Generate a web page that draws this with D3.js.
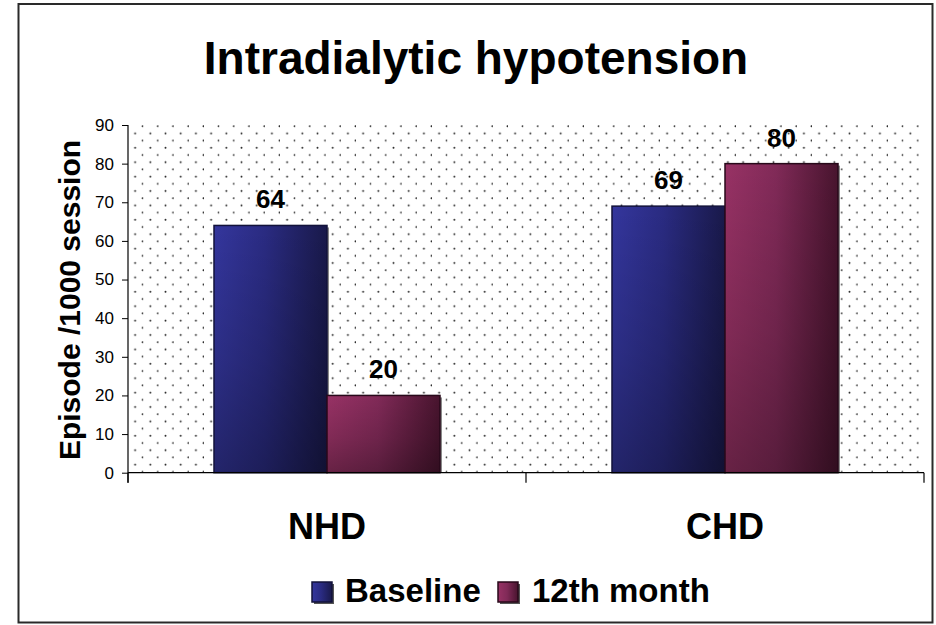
<!DOCTYPE html>
<html>
<head>
<meta charset="utf-8">
<script src="https://cdn.jsdelivr.net/npm/d3@7"></script>
<style>
  body { margin: 0; background: #fff; }
  svg { display: block; font-family: "Liberation Sans", Arial, sans-serif; }
</style>
</head>
<body>
<div id="chart"></div>
<script>
// chart data
const categories = ['NHD', 'CHD'];
const seriesNames = ['Baseline', '12th month'];
const baselineValues = [64, 69];
const month12Values = [20, 80];
const yTickValues = [0, 10, 20, 30, 40, 50, 60, 70, 80, 90];

(function() {
  const W = 936, H = 625;
  const plot = { left: 128, right: 924, top: 125, bottom: 472.7 };

  const svg = d3.select('#chart').append('svg')
    .attr('width', W)
    .attr('height', H);

  const defs = svg.append('defs');

  // dotted plot background
  const pat = defs.append('pattern')
    .attr('id', 'dots')
    .attr('patternUnits', 'userSpaceOnUse')
    .attr('x', plot.left).attr('y', plot.top)
    .attr('width', 15.2).attr('height', 14.4);
  pat.append('circle').attr('cx', 14.7).attr('cy', 1.2).attr('r', 0.95).attr('fill', '#222');
  pat.append('circle').attr('cx', 7.1).attr('cy', 8.4).attr('r', 0.95).attr('fill', '#222');

  // bar gradients (left light -> right dark) + vertical shade
  const palettes = {
    Baseline: ['#34369d', '#2a2b82', '#19194a', '#12123a'],
    '12th month': ['#983265', '#812a58', '#48142e', '#28091a']
  };
  seriesNames.forEach((s, i) => {
    const p = palettes[s];
    const g = defs.append('linearGradient').attr('id', 'hg' + i)
      .attr('x1', 0).attr('x2', 1).attr('y1', 0).attr('y2', 0);
    g.append('stop').attr('offset', '0%').attr('stop-color', p[0]);
    g.append('stop').attr('offset', '45%').attr('stop-color', p[1]);
    g.append('stop').attr('offset', '100%').attr('stop-color', p[2]);
  });
  const vg = defs.append('linearGradient').attr('id', 'vshade')
    .attr('x1', 0).attr('x2', 0).attr('y1', 0).attr('y2', 1);
  vg.append('stop').attr('offset', '0%').attr('stop-color', '#000').attr('stop-opacity', 0);
  vg.append('stop').attr('offset', '55%').attr('stop-color', '#000').attr('stop-opacity', 0.15);
  vg.append('stop').attr('offset', '100%').attr('stop-color', '#000').attr('stop-opacity', 0.32);

  // outer frame
  svg.append('rect')
    .attr('x', 18.5).attr('y', 4).attr('width', 914).attr('height', 618.5)
    .attr('fill', '#fff')
    .attr('stroke', '#2a2a2a').attr('stroke-width', 2);

  // scales
  const x0 = d3.scaleBand().domain(categories).range([plot.left, plot.right]);
  const x1 = d3.scaleBand().domain(seriesNames).range([0, x0.bandwidth()])
    .paddingInner(0).paddingOuter(0.761);
  const y = d3.scaleLinear().domain([0, 90]).range([plot.bottom, plot.top]);

  svg.append('rect')
    .attr('x', plot.left).attr('y', plot.top)
    .attr('width', plot.right - plot.left).attr('height', plot.bottom - plot.top)
    .attr('fill', 'url(#dots)');

  // title
  svg.append('text')
    .attr('x', 476).attr('y', 74)
    .attr('text-anchor', 'middle')
    .style('font-size', '46px').style('font-weight', 'bold').style('fill', '#000')
    .text('Intradialytic hypotension');

  // y axis
  const yAxis = svg.append('g')
    .attr('transform', `translate(${plot.left},0)`)
    .call(d3.axisLeft(y).tickValues(yTickValues).tickSize(6).tickPadding(8));
  yAxis.select('.domain').attr('d', `M0,${plot.top}V${plot.bottom + 10}`)
    .attr('stroke', '#000').attr('stroke-width', 1.2);
  yAxis.selectAll('.tick line').attr('stroke', '#000');
  yAxis.selectAll('.tick text')
    .style('font-size', '17px').style('font-family', '"Liberation Sans", Arial, sans-serif')
    .style('fill', '#000');

  svg.append('text')
    .attr('transform', `translate(80,300) rotate(-90)`)
    .attr('text-anchor', 'middle')
    .style('font-size', '30px').style('font-weight', 'bold')
    .text('Episode /1000 session');

  // bars
  const rows = categories.map((c, i) => ({
    cat: c,
    vals: [
      { s: seriesNames[0], si: 0, v: baselineValues[i] },
      { s: seriesNames[1], si: 1, v: month12Values[i] }
    ]
  }));

  const groups = svg.selectAll('.cat')
    .data(rows).enter().append('g')
    .attr('class', 'cat')
    .attr('transform', d => `translate(${x0(d.cat)},0)`);

  const bars = groups.selectAll('.bar')
    .data(d => d.vals).enter().append('g').attr('class', 'bar');

  // shadow
  bars.append('rect')
    .attr('x', d => x1(d.s) + 2).attr('y', d => y(d.v) + 2)
    .attr('width', x1.bandwidth()).attr('height', d => y(0) - y(d.v) - 2)
    .attr('fill', '#8a8a8a');
  bars.append('rect')
    .attr('x', d => x1(d.s)).attr('y', d => y(d.v))
    .attr('width', x1.bandwidth()).attr('height', d => y(0) - y(d.v))
    .attr('fill', d => `url(#hg${d.si})`);
  bars.append('rect')
    .attr('x', d => x1(d.s)).attr('y', d => y(d.v))
    .attr('width', x1.bandwidth()).attr('height', d => y(0) - y(d.v))
    .attr('fill', 'url(#vshade)')
    .attr('stroke', d => palettes[d.s][3]).attr('stroke-width', 1.5);

  bars.append('text')
    .attr('x', d => x1(d.s) + x1.bandwidth() / 2)
    .attr('y', d => y(d.v) - 17)
    .attr('text-anchor', 'middle')
    .style('font-size', '26px').style('font-weight', 'bold')
    .text(d => d.v);

  // x axis
  svg.append('line')
    .attr('x1', plot.left).attr('x2', plot.right)
    .attr('y1', plot.bottom).attr('y2', plot.bottom)
    .attr('stroke', '#000').attr('stroke-width', 1.2);
  const bounds = categories.map(c => x0(c)).concat([plot.right]);
  svg.selectAll('.xtick').data(bounds).enter().append('line')
    .attr('x1', d => d).attr('x2', d => d)
    .attr('y1', plot.bottom).attr('y2', plot.bottom + 10)
    .attr('stroke', '#000').attr('stroke-width', 1.2);

  svg.selectAll('.xlabel').data(categories).enter().append('text')
    .attr('x', d => x0(d) + x0.bandwidth() / 2)
    .attr('y', 539)
    .attr('text-anchor', 'middle')
    .style('font-size', '36px').style('font-weight', 'bold')
    .text(d => d);

  // legend
  const legendPos = [{ sq: 312, tx: 345 }, { sq: 498, tx: 532 }];
  const leg = svg.selectAll('.legend').data(seriesNames).enter().append('g').attr('class', 'legend');
  leg.append('rect')
    .attr('x', (d, i) => legendPos[i].sq + 2).attr('y', 584)
    .attr('width', 20).attr('height', 20).attr('fill', '#555');
  leg.append('rect')
    .attr('x', (d, i) => legendPos[i].sq).attr('y', 582)
    .attr('width', 20).attr('height', 20)
    .attr('fill', (d, i) => `url(#hg${i})`)
    .attr('stroke', d => palettes[d][3]).attr('stroke-width', 1.5);
  leg.append('text')
    .attr('x', (d, i) => legendPos[i].tx).attr('y', 602)
    .style('font-size', '33px').style('font-weight', 'bold')
    .text(d => d);
})();
</script>
</body>
</html>
